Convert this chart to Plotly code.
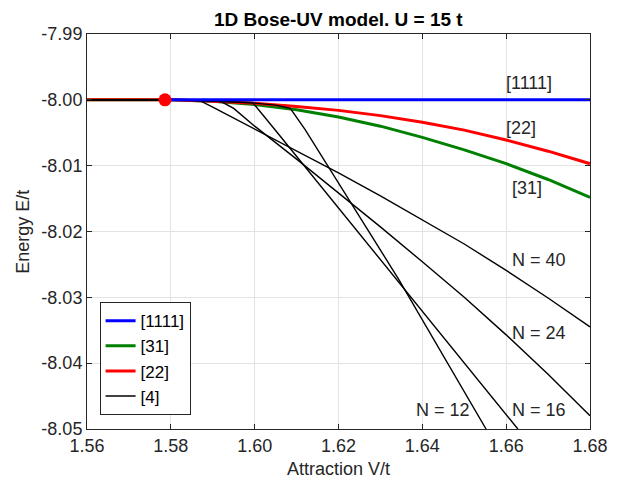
import plotly.graph_objects as go

# energies (E/t vs V/t)
v_1111 = [1.5786, 1.60, 1.62, 1.64, 1.66, 1.68]
e_1111 = [-8.0, -8.0, -8.0, -8.0, -8.0, -8.0]

v_31 = [1.56, 1.58, 1.59, 1.60, 1.61, 1.62, 1.63, 1.64, 1.65, 1.66, 1.67, 1.68]
e_31 = [-8.0, -8.0, -8.0002, -8.0007, -8.0015, -8.0026, -8.0040, -8.0057,
        -8.0076, -8.0097, -8.0121, -8.0148]

v_22 = [1.56, 1.58, 1.59, 1.60, 1.61, 1.62, 1.63, 1.64, 1.65, 1.66, 1.67, 1.68]
e_22 = [-8.0, -8.0, -8.0002, -8.0005, -8.0010, -8.0016, -8.0024, -8.0034,
        -8.0046, -8.0061, -8.0078, -8.0097]

# [4] state for several chain lengths
v_n40 = [1.56, 1.58, 1.585, 1.5868, 1.59, 1.60, 1.61, 1.62, 1.63, 1.64, 1.65, 1.66, 1.67, 1.68]
e_n40 = [-8.0, -8.0, -8.0, -8.0001, -8.0011, -8.0044, -8.0077, -8.0111, -8.0146,
         -8.0182, -8.0219, -8.0259, -8.0301, -8.0345]

v_n24 = [1.56, 1.58, 1.59, 1.5921, 1.595, 1.60, 1.61, 1.62, 1.63, 1.64, 1.65, 1.66, 1.67, 1.68]
e_n24 = [-8.0, -8.0, -8.0002, -8.0003, -8.0013, -8.0040, -8.0090, -8.0141, -8.0193,
         -8.0246, -8.0300, -8.0357, -8.0417, -8.0480]

v_n16 = [1.56, 1.58, 1.59, 1.5995, 1.6048, 1.62, 1.64, 1.6628]
e_n16 = [-8.0, -8.0, -8.0002, -8.0004, -8.0045, -8.0164, -8.0321, -8.0500]

v_n12 = [1.56, 1.58, 1.59, 1.60, 1.605, 1.6085, 1.612, 1.6344, 1.6552]
e_n12 = [-8.0, -8.0, -8.0002, -8.0005, -8.0008, -8.0013, -8.0045, -8.0273, -8.0500]

v_dot = [1.5786]
e_dot = [-8.0]

x_ticks = [1.56, 1.58, 1.60, 1.62, 1.64, 1.66, 1.68]
x_labels = ['1.56', '1.58', '1.60', '1.62', '1.64', '1.66', '1.68']
y_ticks = [-7.99, -8.00, -8.01, -8.02, -8.03, -8.04, -8.05]
y_labels = ['-7.99', '-8.00', '-8.01', '-8.02', '-8.03', '-8.04', '-8.05']

# curve labels: text, x, y
labels = [
    ('[1111]', 1.6596, -7.99737),
    ('[22]', 1.6596, -8.00426),
    ('[31]', 1.661, -8.0134),
    ('N = 40', 1.661, -8.0243),
    ('N = 24', 1.661, -8.0354),
    ('N = 12', 1.638, -8.0471),
    ('N = 16', 1.661, -8.0471),
]

FONT = 'Arial, Liberation Sans, Helvetica, sans-serif'
INK = '#262626'

fig = go.Figure()

fig.add_trace(go.Scatter(x=v_31, y=e_31, mode='lines', name='[31]',
                         line=dict(color='#008000', width=3), legendrank=2))
fig.add_trace(go.Scatter(x=v_22, y=e_22, mode='lines', name='[22]',
                         line=dict(color='#ff0000', width=3), legendrank=3))

for i, (vx, ey) in enumerate([(v_n40, e_n40), (v_n24, e_n24), (v_n16, e_n16), (v_n12, e_n12)]):
    fig.add_trace(go.Scatter(x=vx, y=ey, mode='lines', name='[4]',
                             line=dict(color='black', width=1.4),
                             showlegend=(i == 0), legendrank=4))

fig.add_trace(go.Scatter(x=v_1111, y=e_1111, mode='lines', name='[1111]',
                         line=dict(color='#0000ff', width=3), legendrank=1))

fig.add_trace(go.Scatter(x=v_dot, y=e_dot, mode='markers', showlegend=False,
                         marker=dict(color='#ff0000', size=13, line=dict(width=0))))

for txt, lx, ly in labels:
    fig.add_annotation(x=lx, y=ly, text=txt, showarrow=False, xanchor='left',
                       yanchor='middle', font=dict(size=18, color=INK, family=FONT))

# title and axis titles as paper annotations so they sit where the reference has them
fig.add_annotation(xref='paper', yref='paper', x=0.5, y=1.0355,
                   text='<b>1D Bose-UV model. U = 15 t</b>', showarrow=False,
                   yanchor='middle', font=dict(size=19, color='black', family=FONT))
fig.add_annotation(xref='paper', yref='paper', x=0.5, y=-0.102, text='Attraction V/t',
                   showarrow=False, yanchor='middle', font=dict(size=18, color=INK, family=FONT))
fig.add_annotation(xref='paper', yref='paper', x=-0.1286, y=0.5, text='Energy E/t',
                   showarrow=False, textangle=-90, xanchor='center', yanchor='middle',
                   font=dict(size=18, color=INK, family=FONT))

axis_common = dict(showgrid=True, gridcolor='#e3e3e3', gridwidth=1, zeroline=False,
                   showline=True, linecolor=INK, linewidth=1, mirror='ticks',
                   ticks='inside', ticklen=5, tickcolor=INK, automargin=False,
                   tickfont=dict(size=18, color=INK, family=FONT))

fig.update_xaxes(range=[1.56, 1.68], tickvals=x_ticks, ticktext=x_labels, **axis_common)
fig.update_yaxes(range=[-8.05, -7.99], tickvals=y_ticks, ticktext=y_labels, **axis_common)

# the page body keeps its 8px default margin, so the figure is 8px smaller each way
fig.update_layout(
    width=610, height=477,
    margin=dict(l=79, r=28, t=26, b=56),
    paper_bgcolor='white', plot_bgcolor='white',
    font=dict(family=FONT, color=INK),
    legend=dict(x=0.025, y=0.035, xanchor='left', yanchor='bottom',
                bgcolor='white', bordercolor=INK, borderwidth=1,
                font=dict(size=17, color='black', family=FONT), tracegroupgap=0),
)

fig.write_html("out.html")
